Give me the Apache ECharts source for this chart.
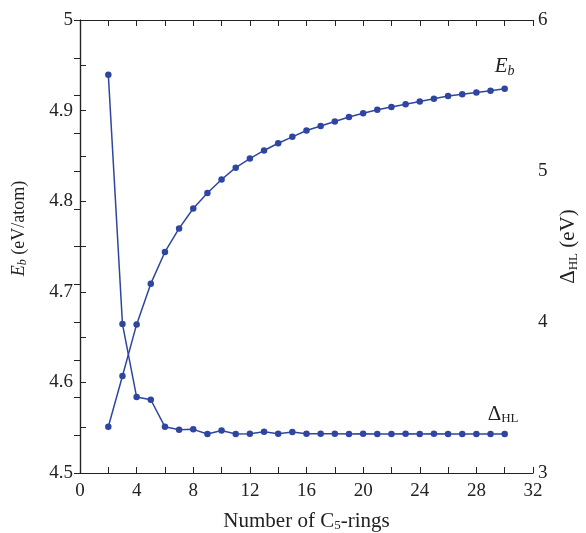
<!doctype html>
<html>
<head>
<meta charset="UTF-8">
<title>Eb and HL gap vs C5 rings</title>
<script src="https://cdn.jsdelivr.net/npm/echarts@6/dist/echarts.min.js"></script>
<style>
  html, body { margin: 0; padding: 0; background: #fff; }
  #chart { width: 586px; height: 533px; }
</style>
</head>
<body>
<div id="chart"></div>
<script>
// number of C5 rings
var rings = [2, 3, 4, 5, 6, 7, 8, 9, 10, 11, 12, 13, 14, 15, 16, 17, 18, 19, 20, 21, 22, 23, 24, 25, 26, 27, 28, 29, 30];
// binding energy Eb (eV/atom), left axis
var eb = [4.551, 4.607, 4.664, 4.709, 4.744, 4.770, 4.792, 4.809, 4.824, 4.837, 4.847, 4.856, 4.864, 4.871, 4.878,
          4.883, 4.888, 4.893, 4.897, 4.901, 4.904, 4.907, 4.910, 4.913, 4.916, 4.918, 4.920, 4.922, 4.924];
// HOMO-LUMO gap (eV), right axis
var gap = [5.638, 3.986, 3.503, 3.485, 3.306, 3.287, 3.289, 3.258, 3.282, 3.258, 3.260, 3.273, 3.260, 3.271, 3.260,
           3.260, 3.260, 3.258, 3.260, 3.258, 3.258, 3.260, 3.258, 3.260, 3.258, 3.258, 3.258, 3.258, 3.258];
var xTicks = [0, 4, 8, 12, 16, 20, 24, 28, 32];

var blue = '#2f46a0';
var font = 'Liberation Serif';
var ink = '#222';

function pairs(xs, ys) {
  var out = [];
  for (var i = 0; i < xs.length; i++) out.push([xs[i], ys[i]]);
  return out;
}

function richSet(size) {
  return {
    n: { fontFamily: font, fontSize: size, color: ink },
    i: { fontFamily: font, fontSize: size, fontStyle: 'italic', color: ink },
    si: { fontFamily: font, fontSize: Math.round(size * 0.67), fontStyle: 'italic', color: ink, padding: [Math.round(size * 0.43), 0, 0, 0] },
    s: { fontFamily: font, fontSize: Math.round(size * 0.62), color: ink, padding: [Math.round(size * 0.43), 0, 0, 0] }
  };
}
var richName = richSet(21);
var richLeft = richSet(18);

var tickLabel = { fontFamily: font, fontSize: 19, color: ink, margin: 7 };

var axisCommon = {
  axisLine: { show: true, lineStyle: { color: ink, width: 1.2 } },
  axisTick: { show: true, inside: true, length: 6, lineStyle: { color: ink } },
  splitLine: { show: false }
};

var chart = echarts.init(document.getElementById('chart'));
var option = {
  backgroundColor: '#fff',
  animation: false,
  grid: { left: 80, right: 53, top: 20, bottom: 60, containLabel: false, outerBoundsMode: 'none' },
  xAxis: [
    Object.assign({}, axisCommon, {
      type: 'value', min: xTicks[0], max: xTicks[xTicks.length - 1], interval: 4,
      minorTick: { show: true, splitNumber: 2, length: 6, lineStyle: { color: ink } },
      axisLabel: Object.assign({}, tickLabel, { margin: 9 }),
      name: '{n|Number of C}{s|5}{n|-rings}',
      nameLocation: 'middle', nameGap: 37,
      nameTextStyle: { rich: richName }
    }),
    Object.assign({}, axisCommon, {
      type: 'value', position: 'top', min: 0, max: 32, interval: 4,
      minorTick: { show: true, splitNumber: 2, length: 6, lineStyle: { color: ink } },
      axisLabel: { show: false }
    })
  ],
  yAxis: [
    Object.assign({}, axisCommon, {
      type: 'value', min: 4.5, max: 5, interval: 0.1,
      minorTick: { show: true, splitNumber: 2, length: 6, lineStyle: { color: ink } },
      axisLabel: Object.assign({}, tickLabel, {
        formatter: function (v) { return v === 5 ? '5' : v.toFixed(1); } }),
      name: '{i|E}{si|b}{n| (eV/atom)}',
      nameLocation: 'middle', nameGap: 51, nameRotate: 90,
      nameTextStyle: { rich: richLeft, padding: [0, 0, 0, 36] }
    }),
    Object.assign({}, axisCommon, {
      type: 'value', position: 'right', min: 3, max: 6, interval: 1,
      minorTick: { show: true, splitNumber: 4, length: 6, lineStyle: { color: ink } },
      axisLabel: Object.assign({}, tickLabel, { margin: 5 }),
      name: '{n|Δ}{s|HL}{n| (eV)}',
      nameLocation: 'middle', nameGap: 24, nameRotate: 90,
      nameTextStyle: { rich: richName }
    })
  ],
  series: [
    {
      name: 'Eb', type: 'line', xAxisIndex: 0, yAxisIndex: 0,
      data: pairs(rings, eb),
      symbol: 'circle', symbolSize: 6.5,
      lineStyle: { color: blue, width: 1.5 },
      itemStyle: { color: blue },
      endLabel: {
        show: true, offset: [-18, -22],
        formatter: '{i|E}{si|b}', rich: richName
      }
    },
    {
      name: 'HL', type: 'line', xAxisIndex: 0, yAxisIndex: 1,
      data: pairs(rings, gap),
      symbol: 'circle', symbolSize: 6.5,
      lineStyle: { color: blue, width: 1.5 },
      itemStyle: { color: blue },
      endLabel: {
        show: true, offset: [-25, -20],
        formatter: '{n|Δ}{s|HL}', rich: richName
      }
    }
  ]
};
chart.setOption(option);
</script>
</body>
</html>
